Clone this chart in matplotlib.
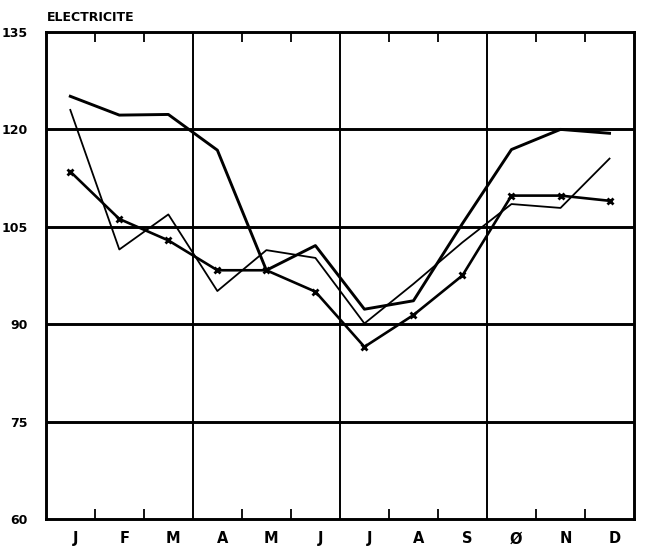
import matplotlib
matplotlib.use("Agg")
import matplotlib.pyplot as plt
import numpy as np

# monthly index values, three series
months = ["J", "F", "M", "A", "M", "J", "J", "A", "S", "Ø", "N", "D"]
serie_haute = [125.1, 122.2, 122.3, 116.8, 98.3, 102.1, 92.3, 93.6, 105.5, 116.9, 120.0, 119.4]
serie_fine = [123.0, 101.5, 106.9, 95.1, 101.4, 100.2, 90.1, 96.2, 102.6, 108.5, 107.9, 115.5]
serie_croix = [113.5, 106.2, 102.9, 98.3, 98.3, 95.0, 86.5, 91.4, 97.5, 109.8, 109.8, 109.0]
yticks = [60, 75, 90, 105, 120, 135]

plt.rcParams['font.family'] = 'DejaVu Sans'
plt.rcParams['font.weight'] = 'bold'

fig = plt.figure(figsize=(6.45, 5.52), dpi=100)
ax = fig.add_axes([0.071, 0.060, 0.912, 0.882])

x = np.arange(len(months)) + 0.5

# grid: horizontal lines every 15, vertical lines at quarters
for y in yticks[1:-1]:
    ax.axhline(y, color="black", lw=2.1, zorder=1)
for q in [3, 6, 9]:
    ax.axvline(q, color="black", lw=1.4, zorder=1)

ax.plot(x, serie_haute, color="black", lw=2.1, zorder=3)
ax.plot(x, serie_fine, color="black", lw=1.3, zorder=3)
ax.plot(x, serie_croix, color="black", lw=1.9, marker="x", ms=5, mew=2, zorder=3)

ax.set_xlim(0, 12)
ax.set_ylim(60, 135)

ax.set_xticks(x + 0.1)
ax.set_xticklabels(months, fontsize=10.5, fontweight="bold")
ax.set_xticks([1, 2, 4, 5, 7, 8, 10, 11], minor=True)
ax.tick_params(axis="x", which="major", length=0, pad=9)
ax.tick_params(axis="x", which="minor", direction="in", length=7, width=1.3,
               top=True, bottom=True)

ax.set_yticks(yticks)
ax.set_yticklabels([str(v) for v in yticks], fontsize=9, fontweight="bold")
ax.tick_params(axis="y", length=0, pad=13)

for s in ax.spines.values():
    s.set_linewidth(2.1)

fig.text(0.072, 0.962, "ELECTRICITE", fontsize=9, fontweight="bold")

fig.savefig("out.png", dpi=100)
